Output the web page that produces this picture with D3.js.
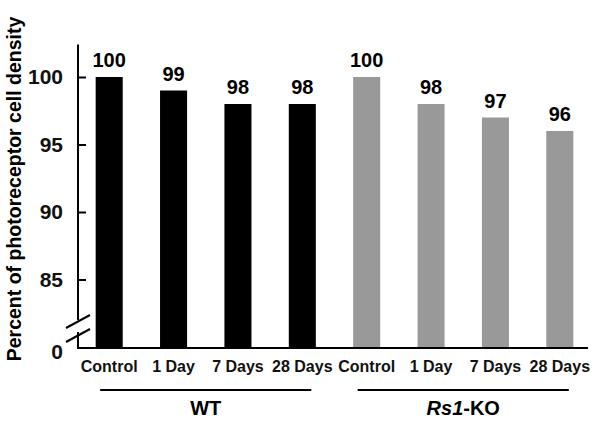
<!DOCTYPE html>
<html>
<head>
<meta charset="utf-8">
<script src="https://cdn.jsdelivr.net/npm/d3@7"></script>
<style>
  body { margin: 0; background: #fff; }
  text { font-family: "Liberation Sans", Arial, sans-serif; }
</style>
</head>
<body>
<div id="chart"></div>
<script>
// data
var categories = ["Control", "1 Day", "7 Days", "28 Days"];
var groups = ["WT", "Rs1-KO"];
var wtValues = [100, 99, 98, 98];
var koValues = [100, 98, 97, 96];
var yTicks = [80, 85, 90, 95, 100];
var yTickLabels = ["0", "85", "90", "95", "100"];

var width = 600, height = 429;

var svg = d3.select("#chart").append("svg")
    .attr("width", width)
    .attr("height", height);

var rows = [];
wtValues.forEach(function(v, i) { rows.push({group: 0, cat: categories[i], value: v, key: "wt" + i}); });
koValues.forEach(function(v, i) { rows.push({group: 1, cat: categories[i], value: v, key: "ko" + i}); });

var x = d3.scaleBand()
    .domain(rows.map(function(d) { return d.key; }))
    .range([77, 592])
    .paddingInner(0.58)
    .paddingOuter(0.29);

// broken axis: the "0" sits where 80 would be
var y = d3.scaleLinear()
    .domain([80, 100])
    .range([347, 77]);

var color = ["#000000", "#999999"];

// bars
svg.append("g").selectAll("rect")
  .data(rows)
  .enter().append("rect")
    .attr("x", function(d) { return x(d.key); })
    .attr("width", x.bandwidth())
    .attr("y", function(d) { return y(d.value); })
    .attr("height", function(d) { return y(80) - y(d.value); })
    .attr("fill", function(d) { return color[d.group]; });

// value labels
svg.append("g").selectAll("text")
  .data(rows)
  .enter().append("text")
    .attr("x", function(d) { return x(d.key) + x.bandwidth() / 2; })
    .attr("y", function(d) { return y(d.value) - 10; })
    .attr("text-anchor", "middle")
    .style("font-size", "20px")
    .style("font-weight", "bold")
    .text(function(d) { return d.value; });

// y axis
var axisX = 78;
var yAxis = d3.axisLeft(y)
    .tickValues(yTicks)
    .tickSize(-8)
    .tickPadding(15)
    .tickFormat(function(d, i) { return yTickLabels[i]; });

var gy = svg.append("g")
    .attr("transform", "translate(" + axisX + ",0)")
    .call(yAxis);
gy.select(".domain").remove();
gy.selectAll(".tick line")
    .attr("stroke", "#000")
    .attr("stroke-width", 2)
    .filter(function(d) { return d === 80; }).remove();
gy.selectAll(".tick text")
    .style("font-size", "21px")
    .style("font-weight", "bold")
    .attr("fill", "#111");
gy.selectAll(".tick text").filter(function(d) { return d === 80; }).attr("dy", "0.55em");

var base = y(80);
// axis line with break
svg.append("line")
    .attr("x1", axisX).attr("x2", axisX)
    .attr("y1", y(102.4)).attr("y2", base - 27)
    .attr("stroke", "#000").attr("stroke-width", 2);
svg.append("line")
    .attr("x1", axisX).attr("x2", axisX)
    .attr("y1", base - 15).attr("y2", base + 1)
    .attr("stroke", "#000").attr("stroke-width", 2);
[0, 14].forEach(function(off) {
  svg.append("line")
      .attr("x1", axisX - 12).attr("y1", base - 19 + off)
      .attr("x2", axisX + 12).attr("y2", base - 32 + off)
      .attr("stroke", "#000").attr("stroke-width", 2);
});

// x baseline
svg.append("line")
    .attr("x1", axisX - 1).attr("x2", 588)
    .attr("y1", base + 1).attr("y2", base + 1)
    .attr("stroke", "#000").attr("stroke-width", 2);

// category labels
svg.append("g").selectAll("text")
  .data(rows)
  .enter().append("text")
    .attr("x", function(d) { return x(d.key) + x.bandwidth() / 2; })
    .attr("y", 372)
    .attr("text-anchor", "middle")
    .style("font-size", "16px")
    .style("font-weight", "bold")
    .attr("fill", "#111")
    .text(function(d) { return d.cat; });

// group brackets
groups.forEach(function(name, gi) {
  var members = rows.filter(function(d) { return d.group === gi; });
  var x0 = x(members[0].key) + x.bandwidth() / 2 - 9;
  var x1 = x(members[members.length - 1].key) + x.bandwidth() / 2 + 9;
  svg.append("line")
      .attr("x1", x0).attr("x2", x1)
      .attr("y1", 390).attr("y2", 390)
      .attr("stroke", "#000").attr("stroke-width", 2);
  var t = svg.append("text")
      .attr("x", (x0 + x1) / 2)
      .attr("y", 415)
      .attr("text-anchor", "middle")
      .style("font-size", "20px")
      .style("font-weight", "bold");
  if (name === "Rs1-KO") {
    t.append("tspan").style("font-style", "italic").text("Rs1");
    t.append("tspan").text("-KO");
  } else {
    t.text(name);
  }
});

// y title
svg.append("text")
    .attr("transform", "translate(21," + 189 + ") rotate(-90)")
    .attr("text-anchor", "middle")
    .style("font-size", "19.5px")
    .style("font-weight", "bold")
    .text("Percent of photoreceptor cell density");
</script>
</body>
</html>
